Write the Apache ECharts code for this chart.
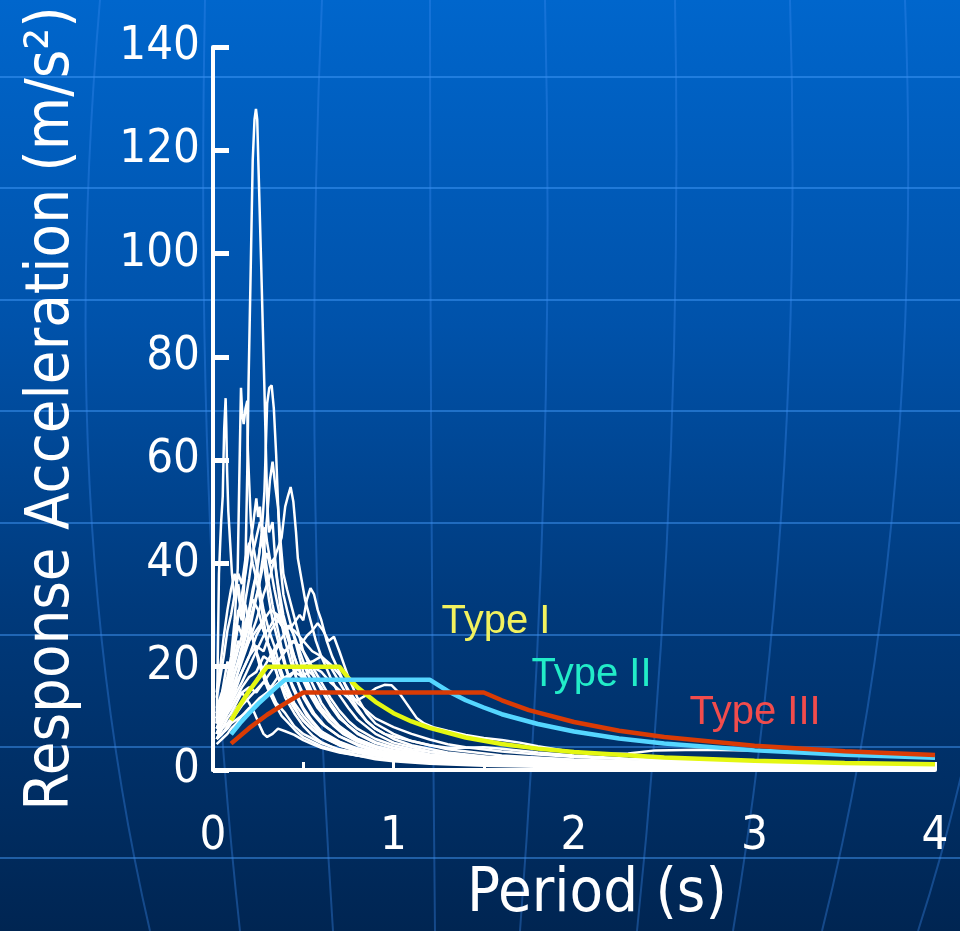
<!DOCTYPE html>
<html>
<head>
<meta charset="utf-8">
<title>Response spectra</title>
<script src="https://cdn.jsdelivr.net/npm/echarts@6/dist/echarts.min.js"></script>
<style>
  html, body { margin: 0; padding: 0; background: #003a7c; }
  #chart { width: 960px; height: 931px; }
</style>
</head>
<body>
<div id="chart"></div>
<script>
// ---- Axis ticks ----
const periodTicks = [0, 1, 2, 3, 4];
const accelTicks = [0, 20, 40, 60, 80, 100, 120, 140];

// ---- Recorded acceleration response spectra: [period (s), Sa (m/s²)] ----
const rec01 = [[0.02,11],[0.04,13],[0.06,17],[0.08,21],[0.1,19],[0.12,26],[0.14,31],[0.16,29],[0.18,40],[0.19,58],[0.197,75],[0.21,99],[0.22,118],[0.23,126],[0.238,128],[0.245,126],[0.251,118],[0.266,99],[0.284,75],[0.3,52],[0.31,46],[0.33,48],[0.35,38],[0.38,30],[0.42,25],[0.46,18],[0.5,14],[0.55,11],[0.6,9],[0.7,6.5],[0.8,4.8],[0.9,3.6],[1.0,2.9],[1.2,2.0],[1.5,1.4],[2.0,0.9],[2.5,0.7],[3.0,0.5],[3.5,0.4],[4.0,0.3]];
const rec02 = [[0.02,9],[0.025,18],[0.033,38],[0.04,44],[0.045,48],[0.054,53],[0.058,60],[0.062,66],[0.07,72],[0.074,66],[0.078,58],[0.085,50],[0.095,44],[0.105,38],[0.12,33],[0.14,36],[0.16,30],[0.18,27],[0.2,29],[0.23,24],[0.26,21],[0.3,17],[0.35,13],[0.4,11],[0.45,8.5],[0.5,7],[0.6,5.2],[0.7,4],[0.85,3],[1.0,2.3],[1.3,1.5],[1.7,1.0],[2.2,0.7],[3.0,0.45],[4.0,0.3]];
const rec03 = [[0.02,10],[0.05,14],[0.08,18],[0.1,22],[0.12,29],[0.137,39],[0.145,55],[0.155,74],[0.162,69],[0.17,67],[0.18,70],[0.19,71.5],[0.193,62],[0.2,56],[0.21,48],[0.225,43],[0.24,40],[0.26,35],[0.28,31],[0.31,27],[0.34,24],[0.37,20],[0.4,17],[0.45,13],[0.5,10.5],[0.55,8.5],[0.6,7],[0.7,5.2],[0.8,4],[1.0,2.8],[1.2,2.1],[1.5,1.5],[2.0,1.0],[2.5,0.75],[3.0,0.55],[4.0,0.35]];
const rec04 = [[0.02,8],[0.05,11],[0.08,14],[0.1,16],[0.13,20],[0.16,24],[0.19,28],[0.22,34],[0.25,40],[0.27,46],[0.285,54],[0.3,71],[0.312,74],[0.325,74.5],[0.337,70],[0.35,61],[0.362,50],[0.375,39],[0.39,34],[0.41,31],[0.44,27],[0.47,23],[0.5,19],[0.55,15],[0.6,12],[0.65,10],[0.7,8.3],[0.8,6],[0.9,4.6],[1.0,3.7],[1.2,2.6],[1.5,1.7],[2.0,1.1],[2.5,0.8],[3.0,0.6],[4.0,0.4]];
const rec05 = [[0.02,7],[0.05,10],[0.08,13],[0.1,15],[0.13,18],[0.16,22],[0.19,25],[0.22,30],[0.25,35],[0.28,42],[0.3,49],[0.315,56],[0.33,59.7],[0.345,55],[0.36,51],[0.375,44],[0.39,38],[0.41,35],[0.44,31],[0.47,27],[0.5,23],[0.55,19],[0.6,15.5],[0.65,12.5],[0.7,10],[0.8,7.2],[0.9,5.4],[1.0,4.3],[1.2,3.0],[1.5,2.0],[2.0,1.3],[2.5,0.95],[3.0,0.7],[4.0,0.45]];
const rec06 = [[0.02,9],[0.05,11],[0.08,13],[0.1,15],[0.13,18],[0.16,21],[0.2,25],[0.24,29],[0.28,34],[0.32,38],[0.35,42],[0.38,45],[0.4,51],[0.415,53],[0.43,54.8],[0.445,52],[0.46,46],[0.47,41],[0.49,37],[0.51,33],[0.54,29],[0.57,25],[0.6,22],[0.65,18],[0.7,14.5],[0.75,12],[0.8,9.8],[0.9,7],[1.0,5.3],[1.2,3.6],[1.5,2.4],[2.0,1.5],[2.5,1.1],[3.0,0.8],[4.0,0.5]];
const rec07 = [[0.02,8],[0.05,10],[0.08,12],[0.1,14],[0.13,17],[0.16,19],[0.2,22],[0.24,24],[0.28,23],[0.32,27],[0.36,29],[0.4,27],[0.44,28],[0.48,30],[0.5,29],[0.52,33],[0.54,35.2],[0.56,34],[0.58,31],[0.6,29],[0.63,25],[0.66,22],[0.7,19],[0.75,15],[0.8,12],[0.85,9.5],[0.9,8],[1.0,6],[1.1,4.8],[1.3,3.4],[1.6,2.3],[2.0,1.6],[2.5,1.1],[3.0,0.85],[4.0,0.55]];
const rec08 = [[0.02,7],[0.05,9],[0.08,11],[0.1,12],[0.13,14],[0.16,16],[0.2,18],[0.24,19],[0.28,22],[0.32,21],[0.36,24],[0.4,23],[0.44,25],[0.48,24],[0.52,26],[0.55,27],[0.58,28.4],[0.61,27],[0.64,25],[0.67,25.8],[0.7,23],[0.72,21],[0.75,18],[0.8,14],[0.85,11],[0.9,9],[1.0,7],[1.1,5.6],[1.3,4],[1.6,2.8],[2.0,2.0],[2.5,1.4],[3.0,1.1],[4.0,0.7]];
const rec09 = [[0.02,6],[0.05,8],[0.08,10],[0.1,11],[0.13,13],[0.16,15],[0.2,16],[0.24,15],[0.28,17],[0.32,16],[0.36,18],[0.4,17],[0.45,19],[0.5,18],[0.55,20],[0.6,19],[0.65,17],[0.7,15.5],[0.75,14],[0.8,13.5],[0.85,14.5],[0.9,15.8],[0.95,16.5],[0.99,16.4],[1.03,15],[1.07,13],[1.1,11.5],[1.13,10],[1.17,9],[1.22,8.3],[1.3,7.6],[1.4,6.8],[1.5,6.2],[1.6,5.8],[1.7,5.3],[1.8,4.6],[1.9,4.0],[2.0,3.5],[2.15,3.1],[2.3,3.2],[2.45,3.8],[2.7,3.9],[3.0,3.8],[3.3,3.5],[3.6,3.0],[4.0,2.3]];
const rec10 = [[0.02,10],[0.05,12],[0.08,15],[0.1,17],[0.13,20],[0.16,22],[0.2,25],[0.24,27],[0.28,29],[0.32,31],[0.36,30],[0.4,28],[0.45,27],[0.5,25],[0.55,23],[0.6,22],[0.65,20.5],[0.7,18.5],[0.75,15.5],[0.8,13],[0.85,11.5],[0.9,10],[1.0,8.3],[1.1,7],[1.2,5.9],[1.3,5],[1.4,4.4],[1.6,3.6],[1.8,3.0],[2.0,2.5],[2.5,1.8],[3.0,1.35],[3.5,1.0],[4.0,0.8]];
const rec11 = [[0.02,12],[0.05,15],[0.08,18],[0.1,21],[0.12,24],[0.14,28],[0.16,26],[0.18,33],[0.2,37],[0.22,42],[0.24,45],[0.26,48],[0.275,47],[0.29,41],[0.31,36],[0.33,32],[0.36,27],[0.39,22],[0.42,18],[0.46,15],[0.5,12],[0.55,9.5],[0.6,7.5],[0.7,5.5],[0.8,4.2],[0.9,3.4],[1.0,2.8],[1.2,2.0],[1.5,1.4],[2.0,0.9],[3.0,0.5],[4.0,0.35]];
const rec12 = [[0.02,10],[0.05,13],[0.08,17],[0.1,20],[0.12,24],[0.14,30],[0.16,34],[0.18,38],[0.2,43],[0.22,47],[0.24,52.6],[0.25,49],[0.26,51],[0.275,44],[0.29,38],[0.31,33],[0.33,29],[0.36,25],[0.4,20],[0.44,16],[0.48,13],[0.52,10.5],[0.58,8],[0.65,6.2],[0.75,4.6],[0.85,3.5],[1.0,2.6],[1.2,1.9],[1.5,1.3],[2.0,0.85],[3.0,0.5],[4.0,0.3]];
const rec13 = [[0.02,14],[0.04,18],[0.06,22],[0.08,27],[0.1,30],[0.12,34],[0.14,38],[0.16,36],[0.18,41],[0.2,44],[0.22,40],[0.24,37],[0.26,33],[0.28,29],[0.3,25],[0.33,21],[0.36,18],[0.4,15],[0.45,12],[0.5,9.5],[0.55,7.8],[0.6,6.5],[0.7,4.8],[0.8,3.7],[1.0,2.4],[1.2,1.7],[1.5,1.1],[2.0,0.7],[3.0,0.4],[4.0,0.25]];
const rec14 = [[0.02,15],[0.04,20],[0.06,26],[0.08,31],[0.1,35],[0.12,38],[0.14,34],[0.16,30],[0.18,32],[0.2,28],[0.23,24],[0.26,20],[0.3,16],[0.34,13],[0.38,10.5],[0.42,9],[0.46,7.5],[0.5,6.3],[0.6,4.6],[0.7,3.5],[0.8,2.8],[1.0,1.9],[1.3,1.3],[1.7,0.9],[2.2,0.6],[3.0,0.4],[4.0,0.25]];
const rec15 = [[0.02,8],[0.05,10],[0.08,12],[0.1,13],[0.13,15],[0.16,17],[0.2,20],[0.24,23],[0.28,26],[0.32,28],[0.35,30],[0.38,28],[0.41,26],[0.44,23],[0.47,20],[0.5,18],[0.54,15],[0.58,12.5],[0.62,10.5],[0.67,8.5],[0.72,7],[0.8,5.5],[0.9,4.3],[1.0,3.5],[1.2,2.5],[1.5,1.7],[2.0,1.1],[2.5,0.8],[3.0,0.6],[4.0,0.4]];
const rec16 = [[0.02,6],[0.05,7],[0.08,8.5],[0.1,9.5],[0.13,11],[0.16,12.5],[0.2,14],[0.24,15.5],[0.28,17],[0.32,19],[0.36,21],[0.4,23],[0.45,25],[0.5,23],[0.55,20],[0.6,17],[0.65,14],[0.7,11.5],[0.75,9.5],[0.8,8],[0.9,6],[1.0,4.8],[1.1,4],[1.3,3],[1.6,2.1],[2.0,1.5],[2.5,1.1],[3.0,0.85],[4.0,0.55]];
const rec17 = [[0.02,7],[0.05,9],[0.08,11],[0.1,12],[0.13,14],[0.16,15],[0.2,13],[0.23,11],[0.26,8.5],[0.28,7],[0.3,6.4],[0.33,7],[0.36,8],[0.4,7.5],[0.45,6.8],[0.5,5.8],[0.55,5],[0.6,4.3],[0.7,3.4],[0.8,2.8],[1.0,2.0],[1.3,1.4],[1.7,1.0],[2.2,0.7],[3.0,0.45],[4.0,0.3]];
const rec18 = [[0.02,5],[0.05,6],[0.08,7],[0.1,8],[0.13,9],[0.16,10.5],[0.2,12],[0.25,13],[0.3,15],[0.35,16],[0.4,17.5],[0.45,19],[0.5,20],[0.55,18.5],[0.6,16],[0.65,13],[0.7,10.5],[0.75,8.5],[0.8,7],[0.9,5.2],[1.0,4.2],[1.2,3],[1.5,2],[2.0,1.3],[2.5,0.95],[3.0,0.7],[4.0,0.45]];
const rec19 = [[0.02,9],[0.05,12],[0.08,15],[0.1,17],[0.13,20],[0.16,23],[0.19,27],[0.22,31],[0.25,35],[0.28,40],[0.3,42],[0.32,39],[0.34,35],[0.37,30],[0.4,25],[0.43,21],[0.47,17],[0.51,14],[0.56,11],[0.62,8.5],[0.7,6.5],[0.8,5],[0.9,3.9],[1.0,3.2],[1.2,2.3],[1.5,1.5],[2.0,1.0],[3.0,0.55],[4.0,0.35]];
const rec20 = [[0.02,11],[0.05,14],[0.08,17],[0.1,19],[0.12,22],[0.14,25],[0.16,24],[0.18,28],[0.2,31],[0.22,35],[0.24,38],[0.26,43],[0.28,45],[0.29,47],[0.3,44],[0.32,40],[0.34,41],[0.36,36],[0.39,30],[0.42,26],[0.45,22],[0.49,18],[0.53,15],[0.58,12],[0.64,9.5],[0.7,7.8],[0.8,5.8],[0.9,4.5],[1.0,3.6],[1.2,2.5],[1.5,1.7],[2.0,1.1],[3.0,0.6],[4.0,0.4]];
const rec21 = [[0.02,6],[0.05,7],[0.08,8],[0.1,9],[0.14,10],[0.18,11],[0.22,12.5],[0.26,14],[0.3,15],[0.35,16.5],[0.4,18],[0.45,19],[0.5,20.5],[0.55,21],[0.6,22],[0.65,20],[0.7,17],[0.75,14],[0.8,11.5],[0.85,9.5],[0.9,8],[0.95,7],[1.0,6.5],[1.1,5.6],[1.2,4.8],[1.3,4.3],[1.4,4.3],[1.5,4.4],[1.6,4.1],[1.8,3.4],[2.0,2.8],[2.3,2.2],[2.7,1.7],[3.2,1.3],[4.0,0.9]];
const rec22 = [[0.02,7],[0.05,9],[0.08,11],[0.1,13],[0.13,16],[0.16,19],[0.2,22],[0.24,26],[0.27,28],[0.3,25],[0.33,22],[0.36,18],[0.4,14],[0.45,11],[0.5,8.5],[0.55,6.7],[0.6,5.4],[0.7,3.8],[0.8,2.8],[0.9,2.1],[1.0,1.7],[1.2,1.2],[1.5,0.8],[2.0,0.5],[3.0,0.3],[4.0,0.2]];
const rec23 = [[0.02,10],[0.05,13],[0.08,16],[0.1,18],[0.13,22],[0.16,26],[0.19,30],[0.22,33],[0.25,31],[0.28,27],[0.31,24],[0.34,22],[0.37,19],[0.4,16],[0.44,13],[0.48,10.5],[0.53,8.5],[0.6,6.5],[0.7,4.8],[0.8,3.6],[1.0,2.3],[1.3,1.5],[1.7,1.0],[2.5,0.55],[4.0,0.3]];
const rec24 = [[0.02,6],[0.05,8],[0.08,9],[0.1,10],[0.13,12],[0.16,13],[0.2,15],[0.25,18],[0.3,21],[0.35,24],[0.39,26],[0.42,28],[0.45,26],[0.48,23],[0.52,19],[0.56,16],[0.6,13],[0.65,10.5],[0.7,8.5],[0.8,6],[0.9,4.6],[1.0,3.8],[1.2,2.8],[1.4,2.4],[1.6,2.5],[1.8,2.3],[2.0,2.0],[2.5,1.5],[3.0,1.2],[4.0,0.8]];

const records = [rec01, rec02, rec03, rec04, rec05, rec06, rec07, rec08, rec09, rec10, rec11, rec12,
                 rec13, rec14, rec15, rec16, rec17, rec18, rec19, rec20, rec21, rec22, rec23, rec24];

// ---- Design spectra: [period (s), Sa (m/s²)] ----
const designTypeI   = [[0.1,9.6],[0.15,12.6],[0.2,15.3],[0.25,17.7],[0.3,20],[0.7,20],[0.75,17.8],[0.8,16.0],[0.9,13.2],[1.0,11.0],[1.1,9.4],[1.2,8.15],[1.4,6.3],[1.6,5.04],[1.8,4.14],[2.0,3.48],[2.5,2.40],[3.0,1.77],[3.5,1.37],[4.0,1.10]];
const designTypeII  = [[0.1,6.9],[0.15,9.1],[0.2,11.0],[0.25,12.8],[0.3,14.4],[0.35,16.0],[0.4,17.5],[1.2,17.5],[1.3,15.3],[1.4,13.5],[1.5,12.1],[1.6,10.8],[1.8,8.9],[2.0,7.47],[2.25,6.1],[2.5,5.15],[3.0,3.80],[3.5,2.94],[4.0,2.35]];
const designTypeIII = [[0.1,5.1],[0.2,8.1],[0.3,10.7],[0.4,12.9],[0.5,15],[1.5,15],[1.6,13.5],[1.75,11.6],[2.0,9.3],[2.25,7.6],[2.5,6.4],[3.0,4.7],[3.5,3.65],[4.0,2.92]];

// Labels for the design spectra, anchored in data coordinates (left edge, vertical middle)
const designNames = ['Type I', 'Type II', 'Type III'];
const designLabelAt = [[1.263, 28.7], [1.762, 18.4], [2.637, 11.0]];

// ---- Styling ----
const uiFont = "'DejaVu Sans Condensed', 'DejaVu Sans', sans-serif";
const designColors = ['#e4f712', '#55d6ff', '#d93b05'];
const designLabelColors = ['#f2f25e', '#22ecc8', '#f24c4c'];

// Slide-style backdrop: latitude rows and curved meridians
const backdropRows = [77, 188, 300, 411, 523, 635, 747, 858];
const backdropMeridians = [
  [100, 0, 55, 520, 150, 931],
  [205, 0, 195, 520, 240, 931],
  [322, 0, 302, 460, 333, 931],
  [430, 0, 430, 460, 435, 931],
  [545, 0, 556, 460, 520, 931],
  [675, 0, 684, 480, 637, 931],
  [790, 0, 805, 500, 733, 931],
  [905, 0, 925, 520, 822, 931],
  [1020, 0, 1045, 540, 918, 931]
];

const backdrop = [];
backdropRows.forEach(function (y) {
  backdrop.push({
    type: 'line', silent: true, z: -10,
    shape: { x1: 0, y1: y, x2: 960, y2: y },
    style: { stroke: 'rgba(70,160,255,0.45)', lineWidth: 2 }
  });
});
backdropMeridians.forEach(function (m) {
  backdrop.push({
    type: 'bezierCurve', silent: true, z: -10,
    shape: { x1: m[0], y1: m[1], cpx1: m[2], cpy1: m[3], x2: m[4], y2: m[5] },
    style: { stroke: 'rgba(60,140,240,0.35)', lineWidth: 2, fill: null }
  });
});

const series = records.map(function (rec, i) {
  return {
    name: 'record ' + (i + 1),
    type: 'line',
    data: rec,
    showSymbol: false,
    symbol: 'none',
    silent: true,
    z: 2,
    lineStyle: { color: '#ffffff', width: 2.5 }
  };
});

[designTypeI, designTypeII, designTypeIII].forEach(function (curve, i) {
  series.push({
    name: designNames[i],
    type: 'line',
    data: curve,
    showSymbol: false,
    symbol: 'none',
    silent: true,
    z: 3 + i,
    lineStyle: { color: designColors[i], width: 4.5 },
    markPoint: {
      symbol: 'circle',
      symbolSize: 1,
      silent: true,
      itemStyle: { color: 'rgba(0,0,0,0)' },
      label: {
        show: true,
        position: 'right',
        distance: 0,
        formatter: designNames[i],
        color: designLabelColors[i],
        fontFamily: "'Liberation Sans', Arial, sans-serif",
        fontSize: 40
      },
      data: [{ coord: designLabelAt[i] }]
    }
  });
});

const chart = echarts.init(document.getElementById('chart'), null, { renderer: 'canvas' });

chart.setOption({
  animation: false,
  backgroundColor: {
    type: 'linear', x: 0, y: 0, x2: 0, y2: 1,
    colorStops: [
      { offset: 0, color: '#0066cc' },
      { offset: 0.35, color: '#0052aa' },
      { offset: 0.65, color: '#003a7c' },
      { offset: 1, color: '#002552' }
    ]
  },
  graphic: backdrop,
  grid: { left: 213, right: 25, top: 47, bottom: 161, containLabel: false },
  xAxis: {
    type: 'value',
    min: periodTicks[0],
    max: periodTicks[periodTicks.length - 1],
    interval: 0.5,
    name: 'Period (s)',
    nameLocation: 'middle',
    nameGap: 94,
    nameTextStyle: { color: '#ffffff', fontSize: 61, fontFamily: uiFont, padding: [0, 0, 0, 46] },
    axisLine: { show: true, onZero: false, lineStyle: { color: '#ffffff', width: 4 } },
    axisTick: { show: true, inside: true, length: 8, lineStyle: { color: '#ffffff', width: 3 } },
    axisLabel: {
      color: '#ffffff', fontSize: 47, fontFamily: uiFont, margin: 43,
      formatter: function (v) { return periodTicks.indexOf(v) >= 0 ? String(v) : ''; }
    },
    splitLine: { show: false }
  },
  yAxis: {
    type: 'value',
    min: accelTicks[0],
    max: accelTicks[accelTicks.length - 1],
    interval: 20,
    name: 'Response Acceleration (m/s²)',
    nameLocation: 'middle',
    nameGap: 130,
    nameTextStyle: { color: '#ffffff', fontSize: 61, fontFamily: uiFont },
    axisLine: { show: true, lineStyle: { color: '#ffffff', width: 4 } },
    axisTick: { show: true, inside: true, length: 16, lineStyle: { color: '#ffffff', width: 5 } },
    axisLabel: { color: '#ffffff', fontSize: 47, fontFamily: uiFont, margin: 13 },
    splitLine: { show: false }
  },
  series: series
});
</script>
</body>
</html>
